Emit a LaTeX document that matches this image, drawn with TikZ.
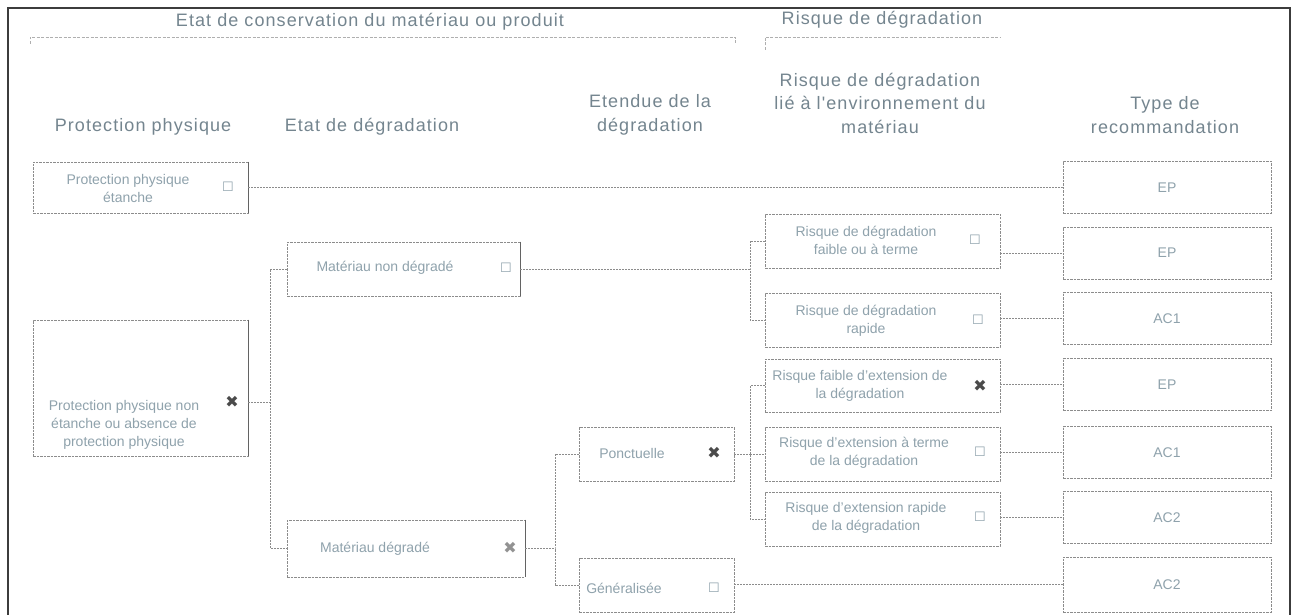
\documentclass[tikz,border=0pt]{standalone}
\usepackage{fontspec}
\setmainfont{Liberation Sans}
\newfontfamily\hdfont[LetterSpace=6]{Liberation Sans}
\newfontfamily\symf{DejaVu Sans}
\definecolor{hdr}{HTML}{74858F}
\definecolor{txt}{HTML}{8FA2AC}
\definecolor{brd}{HTML}{8C8C8C}
\definecolor{mk}{HTML}{4A4A4A}
\definecolor{frm}{HTML}{3C3C3C}
\begin{document}
\begin{tikzpicture}[x=1pt,y=-1pt,
  bx/.style={draw=brd, line width=0.9pt, dash pattern=on 2.5pt off 1pt, inner sep=0pt},
  hd/.style={text=hdr, font=\hdfont\fontsize{18}{23.5}\selectfont, align=center, inner sep=0pt},
  tx/.style={text=txt, font=\fontsize{14}{18}\selectfont, align=center, inner sep=0pt},
  ck/.style={text=txt, font=\symf\fontsize{13}{13}\selectfont, inner sep=0pt},
  xm/.style={text=mk, font=\symf\fontsize{16}{16}\selectfont, inner sep=0pt},
  ln/.style={draw=brd, line width=0.8pt, dash pattern=on 2pt off 1pt},
  br/.style={draw=brd!70, line width=0.8pt, dash pattern=on 3pt off 1.5pt},
  edge/.style={draw=frm!80, line width=1.6pt},
  rec/.style={bx, minimum width=208pt, minimum height=52pt}
]
\useasboundingbox (0,0) rectangle (1294,615);
\fill[white] (0,0) rectangle (1294,615);
% outer frame
\coordinate (f1) at (8,615);
\coordinate (f2) at (8,8);
\coordinate (f3) at (1290,8);
\coordinate (f4) at (1290,615);
\draw[frm, line width=1.3pt] (f1) -- (f2) -- (f3) -- (f4);

% top headers with brackets
\node[hd] (h0) at (370,22) {Etat de conservation du matériau ou produit};
\coordinate (b1a) at (30,44);
\coordinate (b1b) at (30,37);
\coordinate (b1c) at (735,37);
\coordinate (b1d) at (735,44);
\draw[br] (b1a) -- (b1b) -- (b1c) -- (b1d);
\node[hd] (h00) at (882,20) {Risque de dégradation};
\coordinate (b2a) at (765,50);
\coordinate (b2b) at (765,37);
\coordinate (b2c) at (1000,37);
\draw[br] (b2a) -- (b2b) -- (b2c);

% column headers
\node[hd] (c1) at (143,127) {Protection physique};
\node[hd] (c2) at (372,127) {Etat de dégradation};
\node[hd] (c3) at (650,115) {Etendue de la\\dégradation};
\node[hd] (c4) at (880,103) {Risque de dégradation\\lié à l'environnement du\\matériau};
\node[hd] (c5) at (1165,115) {Type de\\recommandation};

% protection physique
\node[bx, minimum width=215pt, minimum height=51pt] (P1) at (140.5,187.5) {};
\node[tx] (P1t) at (128,188) {Protection physique\\étanche};
\node[ck] (P1c) at (228,187) {☐};
\draw[edge] (P1.north east) -- (P1.south east);

\node[bx, minimum width=215pt, minimum height=136pt] (P2) at (140.5,388) {};
\node[tx] (P2t) at (124,425) {Protection physique non\\étanche ou absence de\\protection physique};
\node[xm] (P2x) at (232,402) {✖};
\draw[edge] (P2.north east) -- (P2.south east);

% etat de degradation
\node[bx, minimum width=233pt, minimum height=54pt] (M1) at (403.5,269) {};
\node[tx] (M1t) at (385,268) {Matériau non dégradé};
\node[ck] (M1c) at (506,268) {☐};
\draw[edge] (M1.north east) -- (M1.south east);

\node[bx, minimum width=238pt, minimum height=57pt] (M2) at (406,548.5) {};
\node[tx] (M2t) at (375,549) {Matériau dégradé};
\node[xm, text=mk!60] (M2x) at (510,548) {✖};
\draw[edge] (M2.north east) -- (M2.south east);

% etendue
\node[bx, minimum width=155pt, minimum height=54pt] (E1) at (656.5,454) {};
\node[tx] (E1t) at (632,453) {Ponctuelle};
\node[xm] (E1x) at (714,453) {✖};

\node[bx, minimum width=155pt, minimum height=54pt] (E2) at (656.5,585) {};
\node[tx] (E2t) at (624,588) {Généralisée};
\node[ck] (E2c) at (714,588) {☐};

% risque
\node[bx, minimum width=235pt, minimum height=54pt] (R1) at (882.5,241) {};
\node[tx] (R1t) at (866,240) {Risque de dégradation\\faible ou à terme};
\node[ck] (R1c) at (975,240) {☐};

\node[bx, minimum width=235pt, minimum height=54pt] (R2) at (882.5,320) {};
\node[tx] (R2t) at (866,321) {Risque de dégradation\\rapide};
\node[ck] (R2c) at (978,320) {☐};

\node[bx, minimum width=235pt, minimum height=53pt] (R3) at (882.5,385.5) {};
\node[tx] (R3t) at (860,386) {Risque faible d'extension de\\la dégradation};
\node[xm] (R3x) at (980,386) {✖};

\node[bx, minimum width=235pt, minimum height=54pt] (R4) at (882.5,454) {};
\node[tx] (R4t) at (864,453) {Risque d'extension à terme\\de la dégradation};
\node[ck] (R4c) at (980,452) {☐};

\node[bx, minimum width=235pt, minimum height=54pt] (R5) at (882.5,519) {};
\node[tx] (R5t) at (866,518) {Risque d'extension rapide\\de la dégradation};
\node[ck] (R5c) at (980,517) {☐};

% type de recommandation
\node[rec] (T1) at (1167,187.5) {};
\node[tx] (T1t) at (1167,187.5) {EP};
\node[rec] (T2) at (1167,253) {};
\node[tx] (T2t) at (1167,253) {EP};
\node[rec] (T3) at (1167,318.5) {};
\node[tx] (T3t) at (1167,318.5) {AC1};
\node[rec] (T4) at (1167,384.5) {};
\node[tx] (T4t) at (1167,384.5) {EP};
\node[rec] (T5) at (1167,452.5) {};
\node[tx] (T5t) at (1167,452.5) {AC1};
\node[rec] (T6) at (1167,517.5) {};
\node[tx] (T6t) at (1167,517.5) {AC2};
\node[rec, minimum height=55pt] (T7) at (1167,584.5) {};
\node[tx] (T7t) at (1167,584.5) {AC2};

% connectors
\draw[ln] (P1.east) -- (P1.east -| T1.west);

\coordinate (j1) at (270,402);
\draw[ln] (P2.east |- j1) -- (j1);
\draw[ln] (M1.west) -| (j1) |- (M2.west);

\coordinate (j2) at (750,269);
\draw[ln] (M1.east) -- (j2);
\draw[ln] (R1.west) -| (j2) |- (R2.west);

\coordinate (j3) at (555,548.5);
\draw[ln] (M2.east) -- (j3);
\draw[ln] (E1.west) -| (j3) |- (E2.west);

\coordinate (j4) at (750,454);
\draw[ln] (E1.east) -- (j4);
\draw[ln] (R3.west) -| (j4) |- (R5.west);
\draw[ln] (j4) -- (R4.west);

\draw[ln] (R1.east |- T2.west) -- (T2.west);
\draw[ln] (R2.east |- T3.west) -- (T3.west);
\draw[ln] (R3.east |- T4.west) -- (T4.west);
\draw[ln] (R4.east |- T5.west) -- (T5.west);
\draw[ln] (R5.east |- T6.west) -- (T6.west);
\draw[ln] (E2.east |- T7.west) -- (T7.west);
\end{tikzpicture}
\end{document}
